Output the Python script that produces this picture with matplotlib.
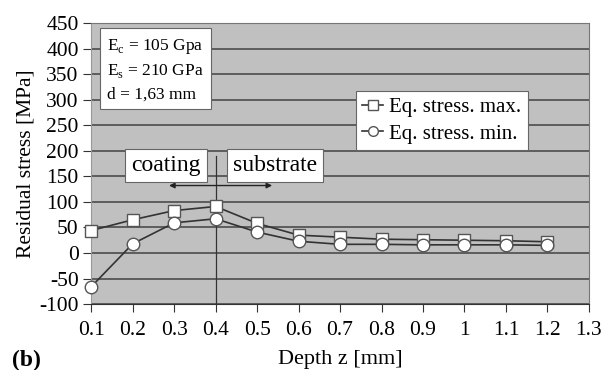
import matplotlib.pyplot as plt

depth = [0.1, 0.2, 0.3, 0.4, 0.5, 0.6, 0.7, 0.8, 0.9, 1.0, 1.1, 1.2]
stress_max = [44, 65, 83, 91, 58, 35, 31, 27, 26, 25, 24, 22]
stress_min = [-66, 18, 59, 67, 41, 23, 17, 17, 16, 16, 16, 15]

plt.rcParams["font.family"] = ["Liberation Serif", "DejaVu Serif"]
plt.rcParams["axes.unicode_minus"] = False

fig = plt.figure(figsize=(6.04, 3.70), dpi=100)
ax = fig.add_axes([0.151, 0.178, 0.824, 0.760])
ax.set_facecolor("#c0c0c0")

ax.plot(depth, stress_max, color="#333333", lw=1.2, marker="s", ms=9,
        mfc="white", mec="#555555", mew=1, label="Eq. stress. max.",
        zorder=3, clip_on=False)
ax.plot(depth, stress_min, color="#333333", lw=1.2, marker="o", ms=9,
        mfc="white", mec="#555555", mew=1, label="Eq. stress. min.",
        zorder=3, clip_on=False)

ax.set_xlim(0.1, 1.3)
ax.set_ylim(-100, 450)
ax.set_xticks([0.1, 0.2, 0.3, 0.4, 0.5, 0.6, 0.7, 0.8, 0.9, 1.0, 1.1, 1.2, 1.3])
ax.set_xticklabels(["0.1", "0.2", "0.3", "0.4", "0.5", "0.6", "0.7", "0.8",
                    "0.9", "1", "1.1", "1.2", "1.3"])
ax.set_yticks(range(-100, 451, 50))
ax.yaxis.grid(True, color="#555555", lw=1.3)
ax.set_axisbelow(True)
ax.tick_params(axis="both", labelsize=15.5, color="#333333", length=6, pad=3)
ax.tick_params(axis="x", pad=6)

for s in ["top", "right"]:
    ax.spines[s].set_color("#777777")
ax.spines["left"].set_color("#999999")
ax.spines["bottom"].set_color("#333333")

ax.set_xlabel("Depth z [mm]", fontsize=16, labelpad=7)
ax.set_ylabel("Residual stress [MPa]", fontsize=15.5, labelpad=3)

# coating / substrate boundary
ax.plot([0.4, 0.4], [-100, 189], color="#333333", lw=0.9, zorder=2)
ax.annotate("", xy=(0.281, 132), xytext=(0.543, 132),
            arrowprops=dict(arrowstyle="<|-|>", color="#222222", lw=1,
                            mutation_scale=8))

box = dict(boxstyle="square,pad=0.25", fc="white", ec="#666666", lw=0.8)
ax.text(0.28, 171, "coating", fontsize=17, ha="center", va="center", bbox=box)
ax.text(0.544, 171, "substrate", fontsize=17, ha="center", va="center", bbox=box)
ax.text(0.139, 359, "E$_\\mathregular{c}$ = 105 Gpa\nE$_\\mathregular{s}$ = 210 GPa\nd = 1,63 mm",
        fontsize=12.5, ha="left", va="center", linespacing=1.5,
        bbox=dict(boxstyle="square,pad=0.4", fc="white", ec="#666666", lw=0.8))

leg = ax.legend(loc="upper left", bbox_to_anchor=(0.532, 0.758), fontsize=15,
                frameon=True, fancybox=False, edgecolor="#666666",
                handlelength=1.0, handletextpad=0.3, borderpad=0.3,
                labelspacing=0.35, borderaxespad=0, framealpha=1)
leg.get_frame().set_linewidth(0.8)
for h in leg.legend_handles:
    h.set_markersize(7)

fig.text(0.02, 0.025, "(b)", fontsize=17, fontweight="bold", va="center")

fig.savefig("out.png", dpi=100)
